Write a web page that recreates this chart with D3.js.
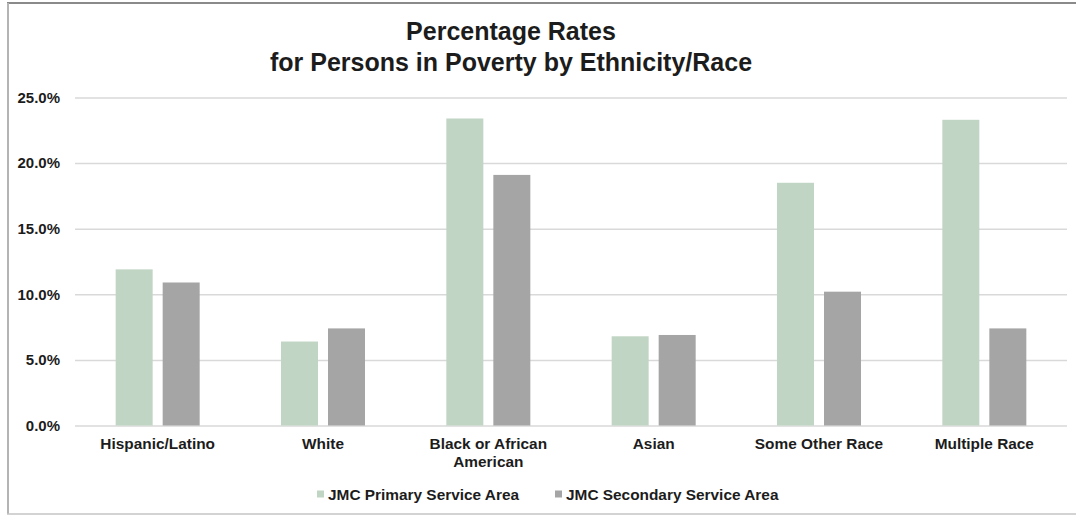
<!DOCTYPE html>
<html>
<head>
<meta charset="utf-8">
<script src="https://cdn.jsdelivr.net/npm/d3@7"></script>
<style>
  html, body { margin: 0; padding: 0; background: #fff; }
  svg { display: block; font-family: "Liberation Sans", Arial, sans-serif; }
</style>
</head>
<body>
<svg id="chart" width="1076" height="516"></svg>
<script>
// Poverty rates by ethnicity/race for the two service areas
const categories = ["Hispanic/Latino", "White", "Black or African American", "Asian", "Some Other Race", "Multiple Race"];
const seriesNames = ["JMC Primary Service Area", "JMC Secondary Service Area"];
const primaryValues = [11.9, 6.4, 23.4, 6.8, 18.5, 23.3];
const secondaryValues = [10.9, 7.4, 19.1, 6.9, 10.2, 7.4];
const yTicks = [0, 5, 10, 15, 20, 25];
const titleLines = ["Percentage Rates", "for Persons in Poverty by Ethnicity/Race"];
const seriesColors = ["#c0d5c4", "#a5a5a5"];

const svg = d3.select("#chart");
const W = 1076, H = 516;
const plot = { left: 75, right: 1067, top: 97.5, bottom: 425.5 };
const textColor = "#1c1c1c";

// frame around the chart
svg.append("line").attr("x1", 7).attr("x2", W).attr("y1", 3).attr("y2", 3)
  .attr("stroke", "#8a8a8a").attr("stroke-width", 2);
svg.append("line").attr("x1", 8).attr("x2", 8).attr("y1", 3).attr("y2", 514)
  .attr("stroke", "#b4b4b4").attr("stroke-width", 2);
svg.append("line").attr("x1", 7).attr("x2", W).attr("y1", 514).attr("y2", 514)
  .attr("stroke", "#c4c4c4").attr("stroke-width", 1.5);

// title
const title = svg.append("text").attr("text-anchor", "middle")
  .attr("font-size", 25).attr("font-weight", "bold").attr("fill", textColor);
titleLines.forEach((t, i) => {
  title.append("tspan").attr("x", 511).attr("y", 40 + i * 31).text(t);
});

const y = d3.scaleLinear().domain([0, 25]).range([plot.bottom, plot.top]);
const x0 = d3.scaleBand().domain(categories).range([plot.left, plot.right]).padding(0);
const x1 = d3.scaleBand().domain(seriesNames).range([0, x0.bandwidth()])
  .paddingInner(0.213).paddingOuter(0.865);

// gridlines and value axis
const yAxis = d3.axisLeft(y).tickValues(yTicks)
  .tickSize(-(plot.right - plot.left)).tickPadding(15)
  .tickFormat(d => d.toFixed(1) + "%");
const gy = svg.append("g").attr("transform", `translate(${plot.left},0)`).call(yAxis);
gy.select(".domain").remove();
gy.selectAll(".tick line").attr("stroke", "#d9d9d9").attr("stroke-width", 1.5);
gy.selectAll(".tick text").attr("font-size", 15).attr("font-weight", "bold")
  .attr("fill", textColor).attr("font-family", "Liberation Sans, Arial, sans-serif");

// bars
const rows = categories.map((c, i) => ({ cat: c, vals: [primaryValues[i], secondaryValues[i]] }));
const groups = svg.append("g").selectAll("g").data(rows).join("g")
  .attr("transform", d => `translate(${x0(d.cat)},0)`);
groups.selectAll("rect")
  .data(d => d.vals.map((v, j) => ({ key: seriesNames[j], v, j })))
  .join("rect")
  .attr("x", d => x1(d.key))
  .attr("width", x1.bandwidth())
  .attr("y", d => y(d.v))
  .attr("height", d => y(0) - y(d.v))
  .attr("fill", d => seriesColors[d.j]);

// category axis labels
const xAxis = d3.axisBottom(x0).tickSize(0).tickPadding(13);
const gx = svg.append("g").attr("transform", `translate(0,${plot.bottom})`).call(xAxis);
gx.select(".domain").remove();
gx.selectAll(".tick text").attr("font-size", 15.4).attr("font-weight", "bold")
  .attr("fill", textColor).attr("font-family", "Liberation Sans, Arial, sans-serif")
  .each(function(d) {
    if (d === "Black or African American") {
      const t = d3.select(this);
      t.text(null);
      t.append("tspan").attr("x", 0).attr("dy", "0.71em").text("Black or African");
      t.append("tspan").attr("x", 0).attr("dy", "1.15em").text("American");
    }
  });

// legend
const legendX = [317, 555];
const legend = svg.append("g");
seriesNames.forEach((name, i) => {
  legend.append("rect").attr("x", legendX[i]).attr("y", 490.5)
    .attr("width", 7).attr("height", 7).attr("fill", seriesColors[i]);
  legend.append("text").attr("x", legendX[i] + 11).attr("y", 499.5)
    .attr("font-size", 15.4).attr("font-weight", "bold").attr("fill", textColor)
    .text(name);
});
</script>
</body>
</html>
